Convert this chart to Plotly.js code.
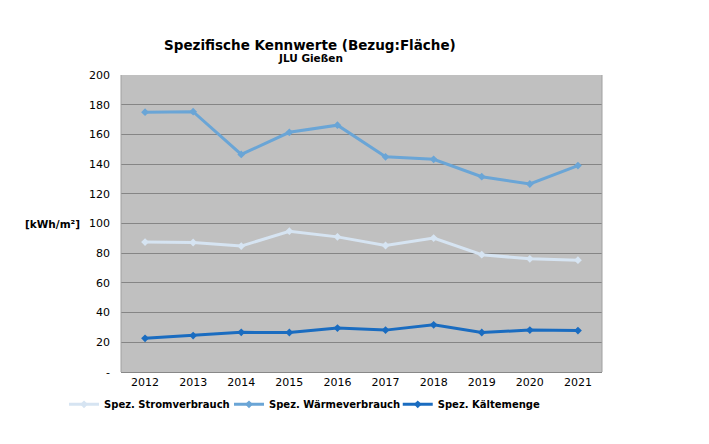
<!DOCTYPE html>
<html>
<head>
<meta charset="utf-8">
<script src="https://cdn.plot.ly/plotly-3.0.1.min.js"></script>
<style>html,body{margin:0;padding:0;background:#fff;}#chart{width:709px;height:444px;}</style>
</head>
<body>
<div id="chart"></div>
<script>
const years = ['2012','2013','2014','2015','2016','2017','2018','2019','2020','2021'];
const strom = [87.5, 87.2, 84.8, 94.8, 91.0, 85.2, 90.2, 79.0, 76.2, 75.3];
const waerme = [175.0, 175.3, 146.5, 161.4, 166.2, 144.9, 143.2, 131.5, 126.6, 139.0];
const kaelte = [22.7, 24.5, 26.7, 26.6, 29.6, 28.2, 31.8, 26.6, 28.2, 27.9];
const seriesNames = ['Spez. Stromverbrauch', 'Spez. Wärmeverbrauch', 'Spez. Kältemenge'];
const yTickVals = [0, 20, 40, 60, 80, 100, 120, 140, 160, 180, 200];
const yTickText = ['-', '20', '40', '60', '80', '100', '120', '140', '160', '180', '200'];

const colors = ['#d6e4f2', '#6aa5d6', '#1a6cc0'];
const F = 'DejaVu Sans, Verdana, sans-serif';
const legendIds = ['legend', 'legend2', 'legend3'];

function tr(i, y) {
  return {
    type: 'scatter', mode: 'lines+markers', name: seriesNames[i], x: years, y: y,
    legend: legendIds[i],
    line: {color: colors[i], width: 3},
    marker: {symbol: 'diamond', size: 6, color: colors[i]}
  };
}

const data = [tr(0, strom), tr(1, waerme), tr(2, kaelte)];

function leg(x) {
  return {
    orientation: 'h', xref: 'container', yref: 'container',
    x: x, xanchor: 'left', y: 0.122, yanchor: 'top',
    font: {family: F, size: 10, color: '#000', weight: 'bold'},
    itemwidth: 30, bgcolor: 'rgba(0,0,0,0)'
  };
}

const layout = {
  width: 709, height: 444,
  margin: {l: 121, r: 107, t: 75, b: 72},
  paper_bgcolor: '#ffffff',
  plot_bgcolor: '#c0c0c0',
  font: {family: F, size: 11, color: '#000'},
  showlegend: true,
  legend: leg(0.0903),
  legend2: leg(0.323),
  legend3: leg(0.561),
  xaxis: {
    type: 'category', range: [-0.5, 9.5], showgrid: false, zeroline: false,
    showline: true, linecolor: '#888', linewidth: 1, ticks: '',
    tickfont: {family: F, size: 11, color: '#000'}, fixedrange: true
  },
  yaxis: {
    range: [0, 200], tickvals: yTickVals, ticktext: yTickText,
    showgrid: true, gridcolor: '#858585', gridwidth: 1, zeroline: false,
    showline: false, ticks: '', ticklabelstandoff: 10,
    tickfont: {family: F, size: 11, color: '#000'}, fixedrange: true
  },
  shapes: [
    {type: 'line', xref: 'paper', yref: 'paper', x0: 0, x1: 0, y0: 0, y1: 1, line: {color: '#a0a0a0', width: 1}},
    {type: 'line', xref: 'paper', yref: 'paper', x0: 1, x1: 1, y0: 0, y1: 1, line: {color: '#a0a0a0', width: 1}}
  ],
  annotations: [
    {text: '<b>Spezifische Kennwerte (Bezug:Fläche)</b>', xref: 'paper', yref: 'paper', x: 0.393, y: 1, yshift: 30, xanchor: 'center', yanchor: 'middle', showarrow: false, font: {family: F, size: 13.5, color: '#000'}},
    {text: '<b>JLU Gießen</b>', xref: 'paper', yref: 'paper', x: 0.393, y: 1, yshift: 17, xanchor: 'center', yanchor: 'middle', showarrow: false, font: {family: F, size: 10.5, color: '#000'}},
    {text: '<b>[kWh/m²]</b>', xref: 'paper', yref: 'y', x: 0, xshift: -98, y: 100, xanchor: 'left', yanchor: 'middle', showarrow: false, font: {family: F, size: 10.5, color: '#000'}}
  ]
};

Plotly.newPlot('chart', data, layout, {displayModeBar: false, staticPlot: true});
</script>
</body>
</html>
